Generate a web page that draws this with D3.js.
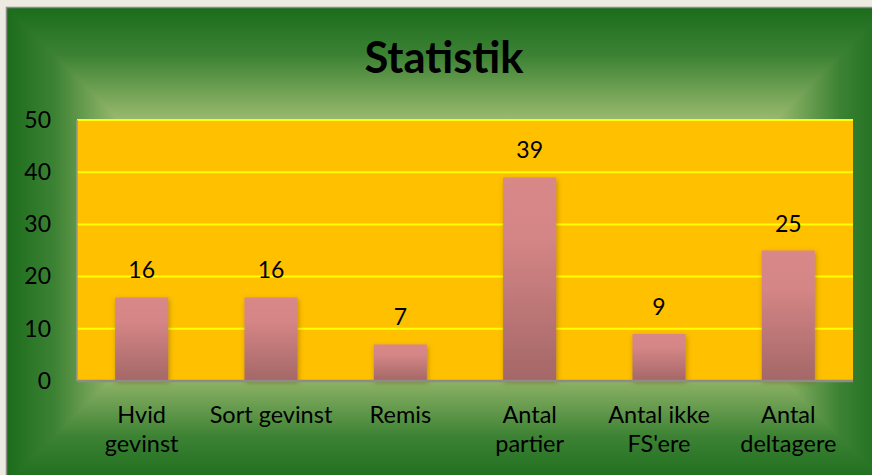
<!DOCTYPE html>
<html>
<head>
<meta charset="utf-8">
<script src="https://cdn.jsdelivr.net/npm/d3@7"></script>
<style>
  html, body { margin: 0; padding: 0; background: #edeae1; }
  svg { display: block; font-family: Lato, "Open Sans", sans-serif; }
</style>
</head>
<body>
<div id="box"></div>
<script>
// data
const categories = ["Hvid\ngevinst", "Sort gevinst", "Remis", "Antal\npartier", "Antal ikke\nFS'ere", "Antal\ndeltagere"];
const values = [16, 16, 7, 39, 9, 25];
const yTicks = [0, 10, 20, 30, 40, 50];
const title = "Statistik";

const W = 872, H = 475;
const frame = { x: 7, y: 8, w: 880, h: 476 };
const plot = { left: 77, top: 120, right: 853, bottom: 381 };

const svg = d3.select('#box').append('svg')
    .attr('width', W)
    .attr('height', H);

const defs = svg.append('defs');

// rectangular "from centre" gradient: four trapezoids, each faded edge -> centre
const dark = '#1b6c1c', light = '#9dbc70';
const half = frame.h / 2;
const cx0 = frame.x + half, cx1 = frame.x + frame.w - half, cy = frame.y + half;
const fx0 = frame.x, fy0 = frame.y, fx1 = frame.x + frame.w, fy1 = frame.y + frame.h;

function grad(id, x1, y1, x2, y2) {
  const g = defs.append('linearGradient').attr('id', id)
      .attr('gradientUnits', 'userSpaceOnUse')
      .attr('x1', x1).attr('y1', y1).attr('x2', x2).attr('y2', y2);
  g.append('stop').attr('offset', 0).attr('stop-color', dark);
  g.append('stop').attr('offset', 0.2).attr('stop-color', '#3d8234');
  g.append('stop').attr('offset', 0.48).attr('stop-color', light);
  g.append('stop').attr('offset', 1).attr('stop-color', light);
}
grad('gTop', 0, fy0, 0, cy);
grad('gBot', 0, fy1, 0, cy);
grad('gLeft', fx0, 0, cx0, 0);
grad('gRight', fx1, 0, cx1, 0);

const bg = svg.append('g').attr('class', 'bg');
const pieces = [
  { pts: [[fx0, fy0], [fx1, fy0], [cx1, cy], [cx0, cy]], g: 'gTop' },
  { pts: [[fx0, fy1], [fx1, fy1], [cx1, cy], [cx0, cy]], g: 'gBot' },
  { pts: [[fx0, fy0], [cx0, cy], [fx0, fy1]], g: 'gLeft' },
  { pts: [[fx1, fy0], [cx1, cy], [fx1, fy1]], g: 'gRight' }
];
pieces.forEach(p => {
  bg.append('polygon')
      .attr('points', p.pts.join(' '))
      .attr('fill', `url(#${p.g})`)
      .attr('stroke', `url(#${p.g})`)
      .attr('stroke-width', 1.2)
      .attr('stroke-linejoin', 'round');
});
bg.append('rect')
    .attr('x', frame.x - 0.5).attr('y', frame.y - 0.5)
    .attr('width', frame.w).attr('height', frame.h)
    .attr('fill', 'none').attr('stroke', '#8c8c88').attr('stroke-width', 1.5);

// bar gradient + shadow
const bg2 = defs.append('linearGradient').attr('id', 'barG')
    .attr('x1', 0).attr('y1', 0).attr('x2', 0).attr('y2', 1);
bg2.append('stop').attr('offset', 0).attr('stop-color', '#d98888');
bg2.append('stop').attr('offset', 0.3).attr('stop-color', '#d48585');
bg2.append('stop').attr('offset', 1).attr('stop-color', '#a46767');

const sh = defs.append('filter').attr('id', 'shadow')
    .attr('x', '-30%').attr('y', '-10%').attr('width', '160%').attr('height', '130%');
sh.append('feDropShadow').attr('dx', 1).attr('dy', 2).attr('stdDeviation', 2.5)
    .attr('flood-color', '#6b5000').attr('flood-opacity', 0.45);

// scales
const x = d3.scaleBand()
    .domain(categories)
    .range([plot.left, plot.right])
    .padding(0);

const y = d3.scaleLinear()
    .domain([0, 50])
    .range([plot.bottom, plot.top]);

// title
svg.append('text')
    .attr('x', 444)
    .attr('y', 73)
    .attr('text-anchor', 'middle')
    .attr('font-size', '43.5px')
    .attr('font-weight', 'bold')
    .attr('fill', '#000')
    .text(title);

// plot area
svg.append('rect')
    .attr('x', plot.left).attr('y', plot.top)
    .attr('width', plot.right - plot.left).attr('height', plot.bottom - plot.top)
    .attr('fill', '#ffc000');

// gridlines
svg.append('g')
    .selectAll('line')
    .data(yTicks.filter(d => d > 0))
    .join('line')
    .attr('x1', plot.left).attr('x2', plot.right)
    .attr('y1', d => y(d)).attr('y2', d => y(d))
    .attr('stroke', '#ffff00').attr('stroke-width', 2);

// left axis line
svg.append('line')
    .attr('x1', plot.left).attr('x2', plot.left)
    .attr('y1', plot.top).attr('y2', plot.bottom)
    .attr('stroke', '#9a9a8a').attr('stroke-width', 1.5);

// bars
const barW = x.bandwidth() * 0.41;
svg.append('g')
    .selectAll('rect')
    .data(values)
    .join('rect')
    .attr('x', (d, i) => x(categories[i]) + (x.bandwidth() - barW) / 2)
    .attr('y', d => y(d))
    .attr('width', barW)
    .attr('height', d => y(0) - y(d))
    .attr('fill', 'url(#barG)')
    .attr('filter', 'url(#shadow)');

// category axis line
svg.append('line')
    .attr('x1', plot.left).attr('x2', plot.right)
    .attr('y1', plot.bottom).attr('y2', plot.bottom)
    .attr('stroke', '#8d8d85').attr('stroke-width', 2.5);

// data labels
svg.append('g')
    .selectAll('text')
    .data(values)
    .join('text')
    .attr('x', (d, i) => x(categories[i]) + x.bandwidth() / 2)
    .attr('y', d => y(d) - 19)
    .attr('text-anchor', 'middle')
    .attr('font-size', '23px')
    .attr('fill', '#000')
    .text(d => d);

// y axis labels
const yAxis = d3.axisLeft(y).tickValues(yTicks).tickSize(0).tickPadding(26);
const ya = svg.append('g')
    .attr('transform', `translate(${plot.left},0)`)
    .call(yAxis);
ya.select('.domain').remove();
ya.selectAll('text')
    .attr('font-size', '23px')
    .attr('font-family', 'Lato, sans-serif')
    .attr('fill', '#000');

// x axis labels (wrapped)
const xa = svg.append('g');
categories.forEach(c => {
  const t = xa.append('text')
      .attr('text-anchor', 'middle')
      .attr('font-size', '23.5px')
      .attr('fill', '#000');
  c.split('\n').forEach((ln, j) => {
    t.append('tspan')
        .attr('x', x(c) + x.bandwidth() / 2)
        .attr('y', 423 + j * 29)
        .text(ln);
  });
});
</script>
</body>
</html>
